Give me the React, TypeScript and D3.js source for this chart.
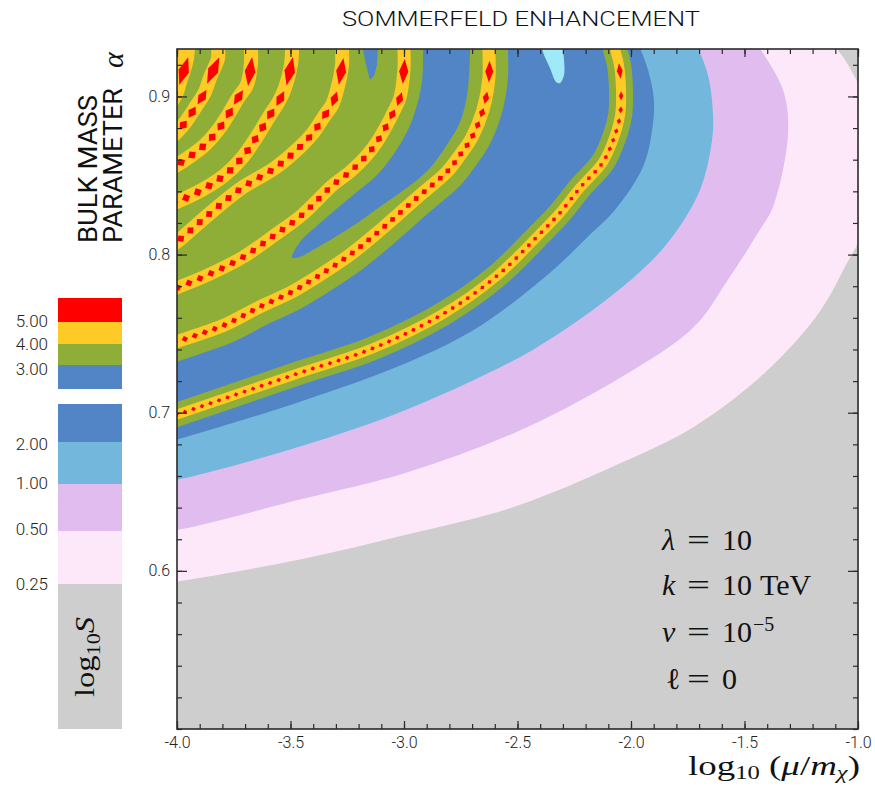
import React, { useRef, useEffect } from "react";
import * as d3 from "d3";

type Pt = [number, number];

// axis ranges and ticks
const xDomain: Pt = [-4, -1];
const yDomain: Pt = [0.5, 0.93];
const xMajor = [-4.0, -3.5, -3.0, -2.5, -2.0, -1.5, -1.0];
const yMajor = [0.6, 0.7, 0.8, 0.9];

// level boundaries of log10 S as [log10(mu/m_chi), alpha]
const edge025: Pt[] = [
  [-4.03, 0.593], [-4.0, 0.5933], [-3.458, 0.6072], [-2.987, 0.623], [-2.511, 0.6407],
  [-2.04, 0.6685], [-1.722, 0.6912], [-1.41, 0.7253], [-1.172, 0.7632], [-1.048, 0.7948],
  [-0.991, 0.8112], [-0.94, 0.855], [-0.94, 0.89], [-1.0, 0.9085], [-1.057, 0.9231],
  [-1.093, 0.93], [-1.123, 0.936],
];
const edge050: Pt[] = [
  [-4.03, 0.6265], [-4.0, 0.6261], [-3.458, 0.6451], [-2.987, 0.6622], [-2.511, 0.6874],
  [-2.04, 0.7228], [-1.722, 0.7544], [-1.573, 0.7841], [-1.432, 0.8157], [-1.374, 0.8302],
  [-1.308, 0.8769], [-1.33, 0.9041], [-1.432, 0.9306], [-1.454, 0.936],
];
const edge100: Pt[] = [
  [-4.03, 0.6575], [-4.0, 0.6577], [-3.458, 0.6786], [-2.987, 0.702], [-2.511, 0.7335],
  [-2.313, 0.7506], [-2.137, 0.7683], [-1.96, 0.7891], [-1.828, 0.8093], [-1.696, 0.8409],
  [-1.643, 0.8725], [-1.639, 0.8896], [-1.661, 0.9136], [-1.705, 0.9306], [-1.722, 0.936],
];
const edge200: Pt[] = [
  [-4.03, 0.682], [-4.0, 0.683], [-3.458, 0.707], [-2.987, 0.7316], [-2.67, 0.7544],
  [-2.357, 0.7885], [-2.181, 0.8125], [-2.07, 0.8283], [-1.947, 0.8555], [-1.907, 0.8788],
  [-1.899, 0.8978], [-1.925, 0.9167], [-1.96, 0.9306], [-1.974, 0.936],
];

// resonance ridges (centre lines of the yellow/red bands)
const ridgeA: Pt[] = [
  [-4.053, 0.6963], [-4.0, 0.6988], [-3.458, 0.7253], [-3.141, 0.7405], [-2.828, 0.7625],
  [-2.59, 0.7866], [-2.401, 0.8132], [-2.313, 0.8264], [-2.225, 0.8422], [-2.123, 0.8586],
  [-2.075, 0.8738], [-2.048, 0.8883], [-2.044, 0.9041], [-2.053, 0.9199], [-2.07, 0.93],
  [-2.075, 0.936],
];
const ridgeB: Pt[] = [
  [-4.053, 0.7424], [-4.0, 0.745], [-3.789, 0.7556], [-3.643, 0.7664], [-3.493, 0.7765],
  [-3.383, 0.786], [-3.238, 0.7999], [-3.093, 0.8169], [-2.943, 0.8359], [-2.811, 0.8523],
  [-2.753, 0.863], [-2.7, 0.8744], [-2.652, 0.8915], [-2.626, 0.9117], [-2.626, 0.93],
  [-2.626, 0.936],
];
const ridgeC: Pt[] = [
  [-4.053, 0.7759], [-4.0, 0.779], [-3.863, 0.7872], [-3.714, 0.798], [-3.568, 0.8125],
  [-3.449, 0.8251], [-3.313, 0.8441], [-3.238, 0.8523], [-3.163, 0.863], [-3.119, 0.8713],
  [-3.075, 0.882], [-3.048, 0.8896], [-3.018, 0.899], [-3.0, 0.918], [-3.0, 0.93], [-3.0, 0.936],
];
const ridgeD: Pt[] = [
  [-4.053, 0.803], [-4.0, 0.8081], [-3.863, 0.8251], [-3.714, 0.8422], [-3.568, 0.8548],
  [-3.458, 0.8681], [-3.401, 0.8769], [-3.348, 0.8883], [-3.317, 0.8946], [-3.295, 0.9041],
  [-3.273, 0.9199], [-3.273, 0.93], [-3.273, 0.936],
];
const ridgeE: Pt[] = [
  [-4.05, 0.8305], [-4.0, 0.8333], [-3.89, 0.8409], [-3.789, 0.8504], [-3.714, 0.8611],
  [-3.643, 0.8757], [-3.59, 0.8883], [-3.555, 0.8959], [-3.524, 0.9054], [-3.498, 0.9199],
  [-3.493, 0.93], [-3.493, 0.936],
];
const ridgeF: Pt[] = [
  [-4.05, 0.853], [-4.0, 0.8567], [-3.934, 0.863], [-3.877, 0.8694], [-3.819, 0.8788],
  [-3.775, 0.8883], [-3.731, 0.899], [-3.692, 0.9073], [-3.674, 0.9212], [-3.674, 0.93],
  [-3.674, 0.936],
];
const ridgeG: Pt[] = [
  [-4.04, 0.872], [-4.0, 0.8776], [-3.965, 0.8833], [-3.921, 0.8927], [-3.877, 0.9028],
  [-3.855, 0.9117], [-3.819, 0.9243], [-3.819, 0.93], [-3.819, 0.936],
];
const ridgeH: Pt[] = [
  [-4.03, 0.895], [-4.0, 0.9028], [-3.987, 0.9092], [-3.969, 0.9167], [-3.956, 0.9243],
  [-3.952, 0.93], [-3.952, 0.936],
];
const ridgeI: Pt[] = [[-4.031, 0.9167], [-4.009, 0.9243], [-4.0, 0.93], [-4.0, 0.936]];

// pockets of lower S inside the resonance region
const blueTongue: Pt[] = [
  [-2.916, 0.9357], [-2.916, 0.9281], [-2.921, 0.9092], [-2.952, 0.8902], [-2.987, 0.8776],
  [-3.048, 0.863], [-3.119, 0.8504], [-3.207, 0.8397], [-3.313, 0.827], [-3.414, 0.8144],
  [-3.458, 0.8081], [-3.493, 0.798], [-3.458, 0.7986], [-3.383, 0.8043], [-3.238, 0.8169],
  [-3.093, 0.8315], [-2.987, 0.8422], [-2.885, 0.8548], [-2.811, 0.8694], [-2.753, 0.8839],
  [-2.722, 0.9009], [-2.709, 0.9281], [-2.709, 0.9357],
];
const blueNotch: Pt[] = [
  [-3.181, 0.9357], [-3.181, 0.93], [-3.167, 0.9199], [-3.15, 0.9104], [-3.132, 0.913],
  [-3.119, 0.9199], [-3.115, 0.93], [-3.115, 0.9357],
];
const cyanSpot: Pt[] = [
  [-2.392, 0.9357], [-2.392, 0.93], [-2.357, 0.918], [-2.33, 0.9092], [-2.313, 0.9085],
  [-2.295, 0.9136], [-2.295, 0.9231], [-2.3, 0.93], [-2.3, 0.9357],
];

const legendTicks = ["5.00", "4.00", "3.00", "2.00", "1.00", "0.50", "0.25"];

const C = {
  gray: "#cecece",
  pink: "#fde8f9",
  lavender: "#e0bdee",
  lightBlue: "#73b8dc",
  blue: "#5285c6",
  green: "#8fae37",
  yellow: "#fecb26",
  red: "#ff0000",
  cyan: "#9fe9f8",
};

const SANS = "Roboto, 'Liberation Sans', Arial, sans-serif";
const SERIF = "'Liberation Serif', 'DejaVu Serif', serif";

const App = () => {
  const svgRef = useRef<SVGGElement>(null);

  useEffect(() => {
    const svg = d3.select(svgRef.current);
    svg.selectAll("*").remove();

    const x = d3.scaleLinear().domain(xDomain).range([177, 858]);
    const y = d3.scaleLinear().domain(yDomain).range([729, 49]);

    const line = d3
      .line<Pt>()
      .x((d) => x(d[0]))
      .y((d) => y(d[1]))
      .curve(d3.curveCatmullRom.alpha(0.5));
    const blob = d3
      .line<Pt>()
      .x((d) => x(d[0]))
      .y((d) => y(d[1]))
      .curve(d3.curveCatmullRomClosed.alpha(0.5));
    const poly = d3
      .line<Pt>()
      .x((d) => x(d[0]))
      .y((d) => y(d[1]))
      .curve(d3.curveLinearClosed);
    // region above/left of a boundary: close it round the top-left corner
    const region = (pts: Pt[]) => line(pts) + `L${x(-4.2)},${y(0.95)}Z`;

    svg
      .append("defs")
      .append("clipPath")
      .attr("id", "plotArea")
      .append("rect")
      .attr("x", x(-4))
      .attr("y", y(0.93))
      .attr("width", x(-1) - x(-4))
      .attr("height", y(0.5) - y(0.93));

    const plot = svg.append("g").attr("clip-path", "url(#plotArea)");

    plot
      .append("rect")
      .attr("x", x(-4))
      .attr("y", y(0.93))
      .attr("width", x(-1) - x(-4))
      .attr("height", y(0.5) - y(0.93))
      .attr("fill", C.gray);

    const levels: [Pt[], string][] = [
      [edge025, C.pink],
      [edge050, C.lavender],
      [edge100, C.lightBlue],
      [edge200, C.blue],
      [ridgeB, C.green],
    ];
    levels.forEach(([pts, c]) => {
      plot.append("path").attr("d", region(pts)).attr("fill", c);
    });

    // green shoulders of the two ridges that run through blue
    const shoulders: [Pt[], number][] = [
      [ridgeA, 24],
      [ridgeB, 38],
    ];
    shoulders.forEach(([pts, w]) => {
      plot
        .append("path")
        .attr("d", line(pts))
        .attr("fill", "none")
        .attr("stroke", C.green)
        .attr("stroke-width", w);
    });

    plot.append("path").attr("d", blob(blueTongue)).attr("fill", C.blue);
    plot.append("path").attr("d", poly(blueNotch)).attr("fill", C.blue);
    plot.append("path").attr("d", blob(cyanSpot)).attr("fill", C.cyan);

    // yellow bands + red dots along each ridge
    const ridges: { pts: Pt[]; w: number; dot: number; gap: number }[] = [
      { pts: ridgeA, w: 10, dot: 2.3, gap: 9 },
      { pts: ridgeB, w: 13, dot: 3.2, gap: 10.5 },
      { pts: ridgeC, w: 13, dot: 3.7, gap: 12 },
      { pts: ridgeD, w: 14, dot: 4, gap: 12.5 },
      { pts: ridgeE, w: 14, dot: 4.3, gap: 13 },
      { pts: ridgeF, w: 14, dot: 4.3, gap: 13 },
      { pts: ridgeG, w: 14, dot: 4.3, gap: 13 },
      { pts: ridgeH, w: 14, dot: 4.3, gap: 13 },
      { pts: ridgeI, w: 14, dot: 4.3, gap: 13 },
    ];

    const dotLayer: { x: number; y: number; a: number; h: number; w: number }[] = [];
    ridges.forEach((r) => {
      const p = plot
        .append("path")
        .attr("d", line(r.pts))
        .attr("fill", "none")
        .attr("stroke", C.yellow)
        .attr("stroke-width", r.w);
      const node = p.node() as SVGPathElement;
      const L = node.getTotalLength();
      let s = 32;
      let i = 0;
      while (s < L) {
        const a = node.getPointAtLength(L - s);
        const b = node.getPointAtLength(Math.max(0, L - s - 1));
        const ang = (Math.atan2(a.y - b.y, a.x - b.x) * 180) / Math.PI;
        const h = i === 0 ? r.dot * 3.4 : r.dot * (1.05 + 0.9 * Math.pow(0.5, i - 1));
        const w = i === 0 ? r.dot * 1.25 : r.dot;
        dotLayer.push({ x: a.x, y: a.y, a: ang, h, w });
        s += r.gap + (i === 0 ? 16 : 10 * Math.pow(0.5, i));
        i++;
      }
    });

    plot
      .append("g")
      .selectAll("path")
      .data(dotLayer)
      .enter()
      .append("path")
      .attr("d", (d) => `M${d.h},0L0,${d.w}L${-d.h},0L0,${-d.w}Z`)
      .attr("transform", (d) => `translate(${d.x},${d.y}) rotate(${d.a})`)
      .attr("fill", C.red);

    // frame
    svg
      .append("rect")
      .attr("x", x(-4))
      .attr("y", y(0.93))
      .attr("width", x(-1) - x(-4))
      .attr("height", y(0.5) - y(0.93))
      .attr("fill", "none")
      .attr("stroke", "#2a2a2a")
      .attr("stroke-width", 1.6);

    // ticks, all pointing inwards
    const xMinor = d3.range(31).map((i) => -4 + i * 0.1);
    const yMinor = d3.range(22).map((i) => 0.5 + i * 0.02);
    const style = (g: any) => {
      g.select(".domain").remove();
      g.selectAll("line").attr("stroke", "#2a2a2a").attr("stroke-width", 1.2);
      g.selectAll("text")
        .attr("font-family", SANS)
        .attr("font-weight", 300)
        .attr("font-size", 16)
        .attr("fill", "#222");
    };
    const none = () => "";

    svg.append("g").attr("transform", `translate(0,${y(0.5)})`)
      .call(d3.axisBottom(x).tickValues(xMinor).tickSize(-5).tickFormat(none)).call(style);
    svg.append("g").attr("transform", `translate(0,${y(0.5)})`)
      .call(d3.axisBottom(x).tickValues(xMajor).tickSize(-8).tickPadding(8)
        .tickFormat((d: any) => d.toFixed(1))).call(style);
    svg.append("g").attr("transform", `translate(0,${y(0.93)})`)
      .call(d3.axisTop(x).tickValues(xMinor).tickSize(-5).tickFormat(none)).call(style);
    svg.append("g").attr("transform", `translate(0,${y(0.93)})`)
      .call(d3.axisTop(x).tickValues(xMajor).tickSize(-8).tickFormat(none)).call(style);

    svg.append("g").attr("transform", `translate(${x(-4)},0)`)
      .call(d3.axisLeft(y).tickValues(yMinor).tickSize(-5).tickFormat(none)).call(style);
    svg.append("g").attr("transform", `translate(${x(-4)},0)`)
      .call(d3.axisLeft(y).tickValues(yMajor).tickSize(-10).tickPadding(7)
        .tickFormat((d: any) => d.toFixed(1))).call(style);
    svg.append("g").attr("transform", `translate(${x(-1)},0)`)
      .call(d3.axisRight(y).tickValues(yMinor).tickSize(-5).tickFormat(none)).call(style);
    svg.append("g").attr("transform", `translate(${x(-1)},0)`)
      .call(d3.axisRight(y).tickValues(yMajor).tickSize(-10).tickFormat(none)).call(style);
  }, []);

  // legend layout (colour keys of log10 S)
  const upper = [
    { c: C.red, y0: 298, y1: 322 },
    { c: C.yellow, y0: 322, y1: 344 },
    { c: C.green, y0: 344, y1: 365 },
    { c: C.blue, y0: 365, y1: 389 },
  ];
  const lower = [
    { c: C.blue, y0: 404, y1: 442 },
    { c: C.lightBlue, y0: 442, y1: 484 },
    { c: C.lavender, y0: 484, y1: 531 },
    { c: C.pink, y0: 531, y1: 584 },
    { c: C.gray, y0: 584, y1: 729 },
  ];
  const labelY = [321, 344, 369, 444, 483, 529, 584];

  return (
    <svg
      width={875}
      height={786}
      style={{ position: "absolute", left: 0, top: 0, background: "#fff" }}
    >
      <g ref={svgRef} />
      <text
        x={521}
        y={26}
        textAnchor="middle"
        fontFamily={SANS}
        fontWeight={300}
        fontSize={21}
        textLength={358}
        lengthAdjust="spacingAndGlyphs"
        fill="#111"
      >
        SOMMERFELD ENHANCEMENT
      </text>

      {/* y axis title */}
      <text
        transform="translate(97,243) rotate(-90)"
        fontFamily={SANS}
        fontWeight={400}
        fontSize={26}
        textLength={148}
        lengthAdjust="spacingAndGlyphs"
        fill="#111"
      >
        BULK MASS
      </text>
      <text
        transform="translate(122,243) rotate(-90)"
        fontFamily={SANS}
        fontWeight={400}
        fontSize={26}
        textLength={155}
        lengthAdjust="spacingAndGlyphs"
        fill="#111"
      >
        PARAMETER
      </text>
      <text
        transform="translate(123,68) rotate(-90)"
        fontFamily={SERIF}
        fontStyle="italic"
        fontSize={30}
        fill="#111"
      >
        α
      </text>

      {/* legend */}
      {upper.concat(lower).map((b, i) => (
        <rect key={i} x={58} y={b.y0} width={64} height={b.y1 - b.y0} fill={b.c} />
      ))}
      {legendTicks.map((t, i) => (
        <text
          key={t}
          x={48}
          y={labelY[i]}
          dy="0.35em"
          textAnchor="end"
          fontFamily={SANS}
          fontWeight={300}
          fontSize={17}
          fill="#222"
        >
          {t}
        </text>
      ))}
      <text
        transform="translate(94,657) rotate(-90)"
        textAnchor="middle"
        fontFamily={SERIF}
        fontSize={28}
        fill="#111"
        textLength={80}
        lengthAdjust="spacingAndGlyphs"
      >
        log
        <tspan fontSize={19} dy={6}>
          10
        </tspan>
        <tspan fontStyle="italic" dy={-6}>
          S
        </tspan>
      </text>

      {/* parameter annotations */}
      {[
        { v: "λ", n: "10", by: 550 },
        { v: "k", n: "10", by: 595 },
        { v: "v", n: "10", by: 642 },
        { v: "ℓ", n: "0", by: 689 },
      ].map((r) => (
        <g key={r.v} fontFamily={SERIF} fontSize={30} fill="#111">
          <text x={r.v === "ℓ" ? 666 : 662} y={r.by} fontStyle={r.v === "ℓ" ? "normal" : "italic"}>
            {r.v}
          </text>
          <text x={687} y={r.by} textLength={23} lengthAdjust="spacingAndGlyphs">
            =
          </text>
          <text x={722} y={r.by}>
            {r.n}
          </text>
        </g>
      ))}
      <text x={760} y={595} fontFamily={SERIF} fontSize={30} fill="#111">
        TeV
      </text>
      <text x={753} y={631} fontFamily={SERIF} fontSize={20} fill="#111">
        −5
      </text>

      {/* x axis title */}
      <text
        x={688}
        y={775}
        fontFamily={SERIF}
        fontSize={27}
        fill="#111"
        textLength={172}
        lengthAdjust="spacingAndGlyphs"
      >
        log
        <tspan fontSize={18} dy={4}>
          10
        </tspan>
        <tspan dy={-4}> (</tspan>
        <tspan fontStyle="italic">μ</tspan>/<tspan fontStyle="italic">m</tspan>
        <tspan fontStyle="italic" fontSize={18} dy={4}>
          χ
        </tspan>
        <tspan dy={-4}>)</tspan>
      </text>
    </svg>
  );
};

export default App;
